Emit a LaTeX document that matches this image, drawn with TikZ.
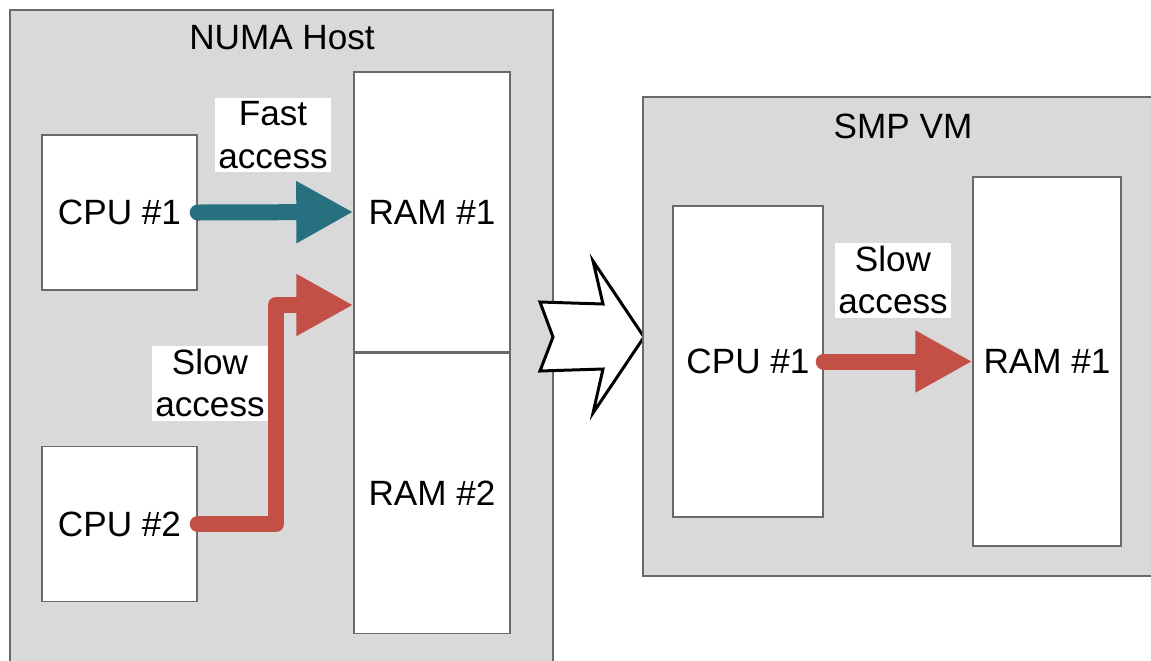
\documentclass[tikz,border=0pt]{standalone}
\usepackage{fontspec}
\setmainfont{Liberation Sans}
\usetikzlibrary{arrows.meta, positioning}
\definecolor{boxgray}{RGB}{217,217,217}
\definecolor{linegray}{RGB}{105,105,105}
\definecolor{fastteal}{RGB}{38,112,128}
\definecolor{slowred}{RGB}{194,80,70}

\begin{document}
\begin{tikzpicture}[x = 0.02cm, y = -0.02cm,
    every node/.style = {font = \fontsize{20}{24}\selectfont},
    host/.style = {draw = linegray, fill = boxgray, line width = 0.85pt},
    unit/.style = {draw = linegray, fill = white, line width = 0.85pt, inner sep = 0pt},
    tag/.style = {fill = white, align = center, inner sep = 2pt},
    access/.style = {line width = 0.32cm, line cap = round, line join = round,
        -{Triangle[length = 1.14cm, width = 1.16cm]}}]
        \useasboundingbox (0, 0) rectangle (1151, 660);

        % NUMA host
        \draw [host] (10, 10) rectangle (553, 680);
        \node (numatitle) at (282, 38) {NUMA Host};
        \node [unit, minimum width = 3.1cm, minimum height = 3.1cm] (cpua) at (119.5, 212.5) {CPU \#1};
        \node [unit, minimum width = 3.1cm, minimum height = 3.1cm] (cpub) at (119.5, 524) {CPU \#2};
        \node [unit, minimum width = 3.12cm, minimum height = 5.6cm] (rama) at (432, 212) {RAM \#1};
        \node [unit, minimum width = 3.12cm, minimum height = 5.6cm, below = 0pt of rama] (ramb) {RAM \#2};

        \draw [access, fastteal] (cpua.east) -- (rama.west);
        \coordinate (bend) at (276, 305);
        \draw [access, slowred] (cpub.east) -| (bend) -- (rama.west |- bend);

        \node [tag] (fastlabel) at (273, 135) {Fast\\access};
        \node [tag] (slowlabel) at (210, 383) {Slow\\access};

        % conversion arrow
        \draw [line width = 1.7pt, fill = white, line join = miter]
        (540, 302) -- (553, 337) -- (540, 371) -- (603, 369) -- (593, 413)
        -- (644, 337) -- (593, 261) -- (603, 304) -- cycle;

        % SMP VM
        \draw [host] (643, 97) rectangle (1170, 576);
        \node (smptitle) at (903, 126) {SMP VM};
        \node [unit, minimum width = 3cm, minimum height = 6.22cm] (vmcpu) at (748, 361.5) {CPU \#1};
        \node [unit, minimum width = 2.96cm, minimum height = 7.38cm] (vmram) at (1047, 361.5) {RAM \#1};

        \draw [access, slowred] (vmcpu.east) -- (vmram.west);
        \node [tag] (vmslowlabel) at (893, 280) {Slow\\access};
    \end{tikzpicture}
\end{document}
